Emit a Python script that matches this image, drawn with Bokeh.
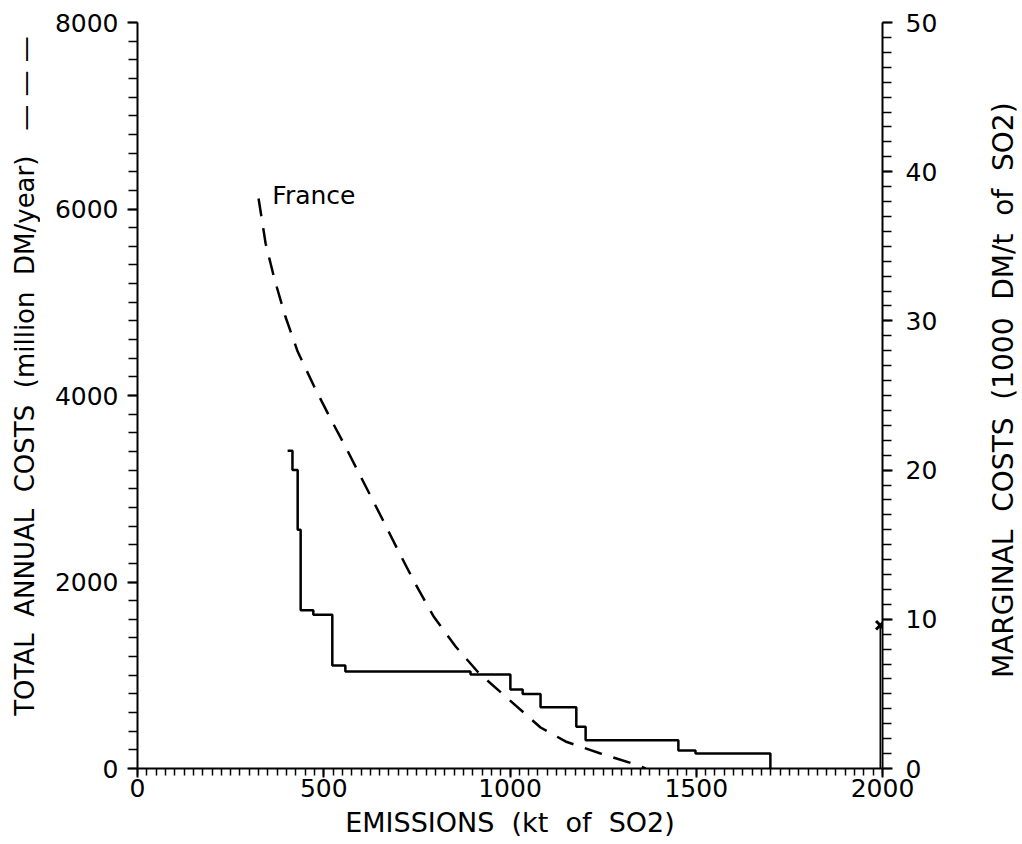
import math
from bokeh.plotting import figure
from bokeh.layouts import row
from bokeh.models import Range1d, LinearAxis, SingleIntervalTicker
from bokeh.core.properties import value
from bokeh.embed import file_html
from bokeh.resources import INLINE

# ---- data ----
# France: total annual costs (million DM/year) vs emissions (kt of SO2), dashed
france_emissions = [325, 344, 368, 397, 430, 473, 518, 558, 658, 701, 744, 795,
                    854, 915, 988, 1082, 1149, 1243, 1337, 1364]
france_total_cost = [6113, 5630, 5244, 4847, 4471, 4107, 3753, 3453, 2670, 2327,
                     1994, 1630, 1308, 1029, 772, 440, 290, 161, 43, 0]

# marginal cost step curve (1000 DM/t of SO2), value holds from each emission level onward
step_emissions = [403, 416, 430, 438, 472, 523, 558, 894, 1001, 1034, 1082, 1178,
                  1203, 1452, 1498, 1699]
step_marginal = [21.3, 20.0, 16.0, 10.6, 10.3, 6.9, 6.5, 6.3, 5.3, 5.0, 4.1, 2.8,
                 1.9, 1.2, 1.0, 0.0]

# point at the current emission level
point_emissions = [1994]
point_marginal = [9.6]

GAP = "\u00a0\u00a0"
series_label = "France"
x_title = GAP.join(["EMISSIONS", "(kt", "of", "SO2)"])
left_title = GAP.join(["TOTAL", "ANNUAL", "COSTS", "(million", "DM/year)"]) + \
    "\u00a0\u00a0\u00a0\u2014 \u2014 \u2014"
right_title = GAP.join(["MARGINAL", "COSTS", "(1000", "DM/t", "of", "SO2)"])
x_ticks_interval = 500
left_ticks_interval = 2000
right_ticks_interval = 10

FONT = "DejaVu Sans"
BLACK = "#000000"
H = 844

p = figure(frame_width=745, frame_height=746,
           x_range=Range1d(0, 2000), y_range=Range1d(0, 8000),
           output_backend="svg", toolbar_location=None,
           min_border_left=97, min_border_right=85,
           min_border_top=22, min_border_bottom=76,
           background_fill_color="white", border_fill_color="white")
p.outline_line_color = None
p.xgrid.visible = False
p.ygrid.visible = False
p.extra_y_ranges = {"mc": Range1d(0, 50)}

raxis = LinearAxis(y_range_name="mc")
p.add_layout(raxis, "right")

xaxis = p.xaxis[0]
yaxis = p.yaxis[0]

xaxis.ticker = SingleIntervalTicker(interval=x_ticks_interval, num_minor_ticks=20)
yaxis.ticker = SingleIntervalTicker(interval=left_ticks_interval, num_minor_ticks=10)
raxis.ticker = SingleIntervalTicker(interval=right_ticks_interval, num_minor_ticks=10)

xaxis.axis_label = x_title

for ax in (xaxis, yaxis, raxis):
    ax.axis_line_width = 2
    ax.axis_line_color = BLACK
    ax.major_tick_line_width = 2
    ax.minor_tick_line_width = 1.5
    ax.major_tick_line_color = BLACK
    ax.minor_tick_line_color = BLACK
    ax.major_tick_in = 0
    ax.minor_tick_in = 0
    ax.major_tick_out = 10
    ax.minor_tick_out = 9
    ax.major_label_text_font = FONT
    ax.major_label_text_font_size = "25px"
    ax.major_label_text_color = BLACK
    ax.axis_label_text_font = FONT
    ax.axis_label_text_font_style = "normal"
    ax.axis_label_text_font_size = "27px"
    ax.axis_label_text_color = BLACK

xaxis.major_tick_out = 9
xaxis.minor_tick_out = 7
xaxis.major_label_standoff = 1
xaxis.axis_label_standoff = 7
yaxis.major_label_standoff = 9
raxis.major_label_standoff = 13

# dashed total cost curve (left axis)
p.line(france_emissions, france_total_cost, line_color=BLACK, line_width=2.5,
       line_dash="18 12")

# marginal cost step curve (right axis)
p.step(step_emissions, step_marginal, mode="after", line_color=BLACK,
       line_width=2.5, y_range_name="mc")

# vertical marker line at 2000 and cross
p.segment(x0=point_emissions, y0=[0], x1=point_emissions, y1=point_marginal,
          line_color=BLACK, line_width=1.5, y_range_name="mc")
p.scatter(point_emissions, point_marginal, marker="x", size=12, line_color=BLACK,
          line_width=3, y_range_name="mc")

p.text(x=[362], y=[6145], text=[series_label], text_font=value(FONT),
       text_font_size=value("25px"), text_color=BLACK, text_align="left",
       text_baseline="alphabetic")


def title_strip(width, text, cx, cy, size):
    f = figure(width=width, height=H, x_range=Range1d(0, width), y_range=Range1d(0, H),
               output_backend="svg", toolbar_location=None,
               x_axis_type=None, y_axis_type=None, min_border=0,
               background_fill_color="white", border_fill_color="white")
    f.outline_line_color = None
    f.xgrid.visible = False
    f.ygrid.visible = False
    f.text(x=[cx], y=[H - cy], text=[text], angle=math.pi / 2,
           text_font=value(FONT), text_font_size=value(size), text_color=BLACK,
           text_align="center", text_baseline="middle")
    return f


left_strip = title_strip(40, left_title, 24, 400, "26px")
right_strip = title_strip(55, right_title, 36, 416, "28px")

layout = row(left_strip, p, right_strip, spacing=0)

open("out.html", "w").write(file_html(layout, INLINE))
